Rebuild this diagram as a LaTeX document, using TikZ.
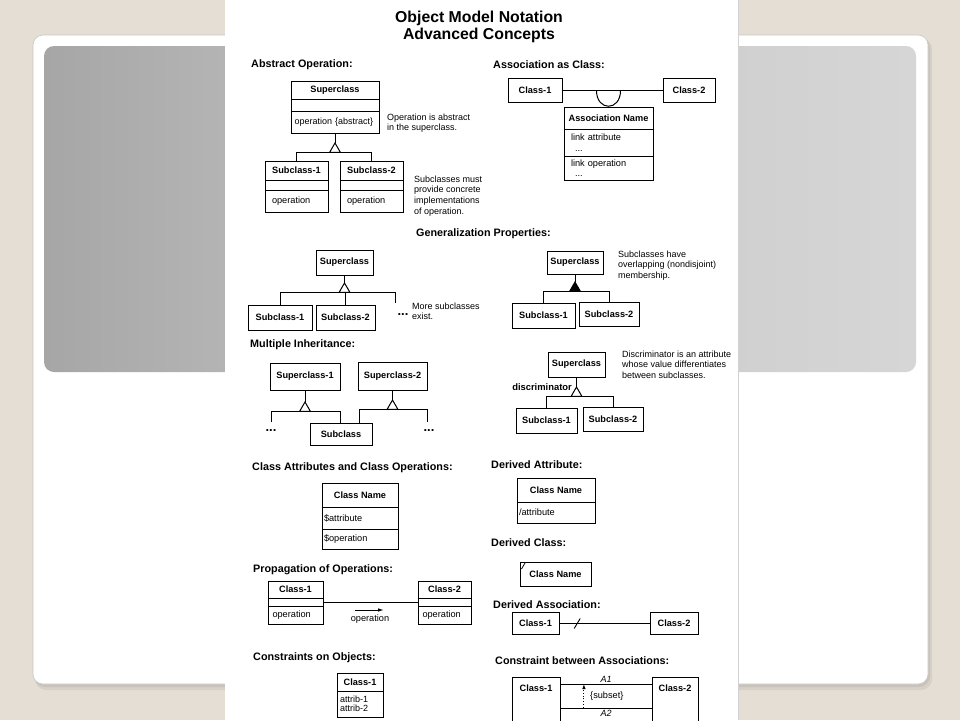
\documentclass[tikz,border=0pt]{standalone}
\usepackage{fontspec}
\setmainfont{Liberation Sans}
\usetikzlibrary{calc,shapes.geometric,arrows.meta}
\definecolor{bgbeige}{RGB}{228,222,212}
\definecolor{cardedge}{RGB}{200,200,200}
\definecolor{hdrL}{RGB}{166,166,166}
\definecolor{hdrM}{RGB}{200,200,200}
\definecolor{hdrR}{RGB}{214,214,214}
\begin{document}
\begin{tikzpicture}[x=1pt,y=-1pt,
  ln/.style={line width=1pt},
  nm/.style={draw, line width=1pt, inner sep=1pt, outer sep=0pt, anchor=north west,
    font=\bfseries\fontsize{9.2}{10}\selectfont},
  cp/.style={draw, line width=1pt, inner xsep=3pt, inner ysep=1pt, outer sep=0pt, anchor=north,
    align=left, font=\fontsize{9.2}{10.5}\selectfont},
  tri/.style={draw, line width=1pt, regular polygon, regular polygon sides=3,
    minimum size=12.5pt, inner sep=0pt, outer sep=0pt, fill=white, anchor=north},
  trif/.style={tri, fill=black},
  hd/.style={font=\bfseries\fontsize{10.8}{12}\selectfont, anchor=west, inner sep=0pt},
  nt/.style={font=\fontsize{9}{10.7}\selectfont, align=left, anchor=north west, inner sep=0pt},
  dots/.style={font=\bfseries\fontsize{13}{13}\selectfont, inner sep=0pt},
  small/.style={font=\fontsize{9.2}{10}\selectfont, inner sep=1pt}
]
\useasboundingbox (0,0) rectangle (960,720);
% slide background
\fill[bgbeige] (0,0) rectangle (960,720);
\fill[black, opacity=0.06, rounded corners=11pt] (35,38) rectangle (932,690);
\fill[black, opacity=0.06, rounded corners=11pt] (34,37) rectangle (930,687);
\filldraw[fill=white, draw=cardedge, line width=0.6pt, rounded corners=10pt] (33,35) rectangle (928,684);
\shade[left color=hdrL, right color=hdrR, middle color=hdrM, rounded corners=10pt] (44,46) rectangle (916,372);
% scanned page
\fill[white] (225,0) rectangle (738,720);
\draw[gray!35, line width=0.6pt] (738,0) -- (738,720);

\begin{scope}
\clip (225,0) rectangle (738,720);

% title
\node[font=\bfseries\fontsize{15.8}{17.5}\selectfont, align=center, inner sep=0pt] (title) at (479,27)
  {Object Model Notation\\Advanced Concepts};

% ---------- Abstract Operation ----------
\node[hd] (h-ao) at (251,65) {Abstract Operation:};
\node[nm, minimum width=88pt, minimum height=18pt] (ao-n) at (291,81) {Superclass};
\node[cp, minimum width=88pt, minimum height=12pt] (ao-e) at (ao-n.south) {};
\node[cp, inner xsep=3.5pt, text width=81pt, minimum height=22pt, font=\fontsize{9}{10.5}\selectfont] (ao-o) at (ao-e.south) {\mbox{operation \{abstract\}}};
\node[tri] (ao-t) at ($(ao-o.south)+(0,10)$) {};
\draw[ln] (ao-o.south) -- (ao-t.north);
\node[nm, minimum width=63pt, minimum height=19pt] (ao-s1n) at (265,161) {Subclass-1};
\node[cp, minimum width=63pt, minimum height=10pt] (ao-s1e) at (ao-s1n.south) {};
\node[cp, inner xsep=7pt, text width=49pt, minimum height=22pt] (ao-s1o) at (ao-s1e.south) {operation};
\node[nm, minimum width=63pt, minimum height=19pt] (ao-s2n) at (340,161) {Subclass-2};
\node[cp, minimum width=63pt, minimum height=10pt] (ao-s2e) at (ao-s2n.south) {};
\node[cp, inner xsep=7pt, text width=49pt, minimum height=22pt] (ao-s2o) at (ao-s2e.south) {operation};
\draw[ln] (ao-s1n.north) |- (ao-t.south) -| (ao-s2n.north);
\node[nt] (ao-note1) at (387,113.5) {Operation is abstract\\in the superclass.};
\node[nt] (ao-note2) at (414,175.5) {Subclasses must\\provide concrete\\implementations\\of operation.};

% ---------- Association as Class ----------
\node[hd] (h-ac) at (493,65) {Association as Class:};
\node[nm, minimum width=54pt, minimum height=24pt] (ac-c1) at (508,78.5) {Class-1};
\node[nm, minimum width=52pt, minimum height=24pt] (ac-c2) at (663,78.5) {Class-2};
\draw[ln] (ac-c1.east) -- (ac-c2.west);
\node[nm, minimum width=89pt, minimum height=22pt] (ac-n) at (564,107) {Association Name};
\node[cp, inner xsep=7pt, text width=75pt, minimum height=27pt] (ac-a) at (ac-n.south) {link attribute\\\hspace*{4pt}...};
\node[cp, inner xsep=7pt, text width=75pt, minimum height=24pt] (ac-o) at (ac-a.south) {link operation\\\hspace*{4pt}...};
\coordinate (ac-m) at (ac-n.north |- ac-c1.east);
\coordinate (ac-l) at ($(ac-m)+(-12,0)$);
\coordinate (ac-r) at ($(ac-m)+(12,0)$);
\draw[ln] (ac-l) .. controls +(0,21) and +(0,21) .. (ac-r);

% ---------- Generalization Properties ----------
\node[hd] (h-gp) at (416,234) {Generalization Properties:};
\node[nm, minimum width=57pt, minimum height=25pt] (gp-sup) at (316,250) {Superclass};
\node[tri] (gp-t) at ($(gp-sup.south)+(0,8)$) {};
\draw[ln] (gp-sup.south) -- (gp-t.north);
\node[nm, minimum width=64pt, minimum height=25pt] (gp-s1) at (248,305) {Subclass-1};
\node[nm, minimum width=59pt, minimum height=25pt] (gp-s2) at (316,305) {Subclass-2};
\coordinate (gp-more) at (395,303);
\draw[ln] (gp-s1.north) |- (gp-t.south) -| (gp-s2.north);
\draw[ln] (gp-t.south) -| (gp-more);
\node[dots] (gp-dots) at (403,315) {...};
\node[nt] (gp-note) at (412,302.5) {More subclasses\\exist.};

\node[nm, minimum width=56pt, minimum height=23pt] (gr-sup) at (547,251) {Superclass};
\node[trif] (gr-t) at ($(gr-sup.south)+(0,8)$) {};
\draw[ln] (gr-sup.south) -- (gr-t.north);
\node[nm, minimum width=63pt, minimum height=25pt] (gr-s1) at (512,303) {Subclass-1};
\node[nm, minimum width=60pt, minimum height=24pt] (gr-s2) at (579,302) {Subclass-2};
\draw[ln] (gr-s1.north) |- (gr-t.south) -| (gr-s2.north);
\node[nt] (gr-note) at (618,250.5) {Subclasses have\\overlapping (nondisjoint)\\membership.};

% ---------- Multiple Inheritance ----------
\node[hd] (h-mi) at (250,345) {Multiple Inheritance:};
\node[nm, minimum width=70pt, minimum height=27pt] (mi-p1) at (270,363) {Superclass-1};
\node[nm, minimum width=69pt, minimum height=28pt] (mi-p2) at (358,362) {Superclass-2};
\node[tri] (mi-t1) at ($(mi-p1.south)+(0,12)$) {};
\node[tri] (mi-t2) at ($(mi-p2.south)+(0,10)$) {};
\draw[ln] (mi-p1.south) -- (mi-t1.north);
\draw[ln] (mi-p2.south) -- (mi-t2.north);
\node[nm, minimum width=62pt, minimum height=22pt] (mi-c) at (310,423) {Subclass};
\coordinate (mi-l) at (271,422);
\coordinate (mi-r) at (427,422);
\draw[ln] (mi-l) |- (mi-t1.south) -| ($(mi-c.north west)+(30,0)$);
\draw[ln] ($(mi-c.north west)+(49,0)$) |- (mi-t2.south) -| (mi-r);
\node[dots] (mi-d1) at (271,431) {...};
\node[dots] (mi-d2) at (429,431) {...};

% ---------- Discriminator ----------
\node[nm, minimum width=57pt, minimum height=25pt] (di-sup) at (548,352) {Superclass};
\node[tri] (di-t) at ($(di-sup.south)+(0,10)$) {};
\draw[ln] (di-sup.south) -- (di-t.north);
\node[font=\bfseries\fontsize{9.4}{10}\selectfont, inner sep=0pt, anchor=east] (di-lbl) at ($(di-t.north)+(-4.5,0.5)$) {discriminator};
\node[nm, minimum width=61pt, minimum height=25pt] (di-s1) at (516,408) {Subclass-1};
\node[nm, minimum width=60pt, minimum height=24pt] (di-s2) at (583,407) {Subclass-2};
\draw[ln] (di-s1.north) |- (di-t.south) -| (di-s2.north);
\node[nt] (di-note) at (622,350.5) {Discriminator is an attribute\\whose value differentiates\\between subclasses.};

% ---------- Class Attributes and Class Operations ----------
\node[hd] (h-ca) at (252,468) {Class Attributes and Class Operations:};
\node[nm, minimum width=76pt, minimum height=24pt] (ca-n) at (322,483) {Class Name};
\node[cp, inner xsep=2pt, text width=72pt, minimum height=22pt] (ca-a) at (ca-n.south) {\$attribute};
\node[cp, inner xsep=2pt, text width=72pt, minimum height=20pt] (ca-o) at (ca-a.south) {\$operation};

% ---------- Derived Attribute ----------
\node[hd] (h-da) at (491,465) {Derived Attribute:};
\node[nm, minimum width=78pt, minimum height=24pt] (da-n) at (517,478) {Class Name};
\node[cp, inner xsep=2pt, text width=74pt, minimum height=21pt] (da-a) at (da-n.south) {/attribute};

% ---------- Derived Class ----------
\node[hd] (h-dc) at (491,543) {Derived Class:};
\node[nm, minimum width=71pt, minimum height=24pt] (dc-n) at (520,562) {Class Name};
\draw[line width=0.8pt] ($(dc-n.north west)+(1.5,7)$) -- ($(dc-n.north west)+(5,1)$);

% ---------- Propagation of Operations ----------
\node[hd] (h-po) at (253,570) {Propagation of Operations:};
\node[nm, minimum width=55pt, minimum height=17pt] (po1-n) at (268,581) {Class-1};
\node[cp, minimum width=55pt, minimum height=8pt] (po1-e) at (po1-n.south) {};
\node[cp, inner xsep=4.5pt, text width=46pt, minimum height=18pt] (po1-o) at (po1-e.south) {operation};
\node[nm, minimum width=53pt, minimum height=17pt] (po2-n) at (418,581) {Class-2};
\node[cp, minimum width=53pt, minimum height=8pt] (po2-e) at (po2-n.south) {};
\node[cp, inner xsep=4.5pt, text width=44pt, minimum height=18pt] (po2-o) at (po2-e.south) {operation};
\draw[ln] (po1-e.east) -- (po2-e.west);
\coordinate (po-a) at (355,610);
\coordinate (po-b) at (384,610);
\draw[ln, -{Latex[length=6pt,width=3.5pt]}] (po-a) -- (po-b);
\node[small] (po-lbl) at (370,619.5) {operation};

% ---------- Constraints on Objects ----------
\node[hd] (h-co) at (253,658) {Constraints on Objects:};
\node[nm, minimum width=46pt, minimum height=18pt] (co-n) at (337,673) {Class-1};
\node[cp, font=\fontsize{9}{9}\selectfont, text width=40pt, minimum height=26pt] (co-a) at (co-n.south) {attrib-1\\attrib-2};

% ---------- Derived Association ----------
\node[hd] (h-das) at (493,605) {Derived Association:};
\node[nm, minimum width=47pt, minimum height=22pt] (das-1) at (512,612.5) {Class-1};
\node[nm, minimum width=48pt, minimum height=22pt] (das-2) at (650,612.5) {Class-2};
\draw[ln] (das-1.east) -- coordinate[pos=0.2] (das-m) (das-2.west);
\draw[line width=0.9pt] ($(das-m)+(-3,5)$) -- ($(das-m)+(3,-5)$);

% ---------- Constraint between Associations ----------
\node[hd] (h-cb) at (495,661) {Constraint between Associations:};
\node[nm, minimum width=48pt, inner ysep=7pt, text height=7pt, text depth=40pt] (cb-1) at (512,677) {Class-1};
\node[nm, minimum width=46pt, inner ysep=7pt, text height=7pt, text depth=40pt] (cb-2) at (652,677) {Class-2};
\coordinate (cb-a1l) at ($(cb-1.north east)+(0,7)$);
\coordinate (cb-a1r) at (cb-2.west |- cb-a1l);
\coordinate (cb-a2l) at ($(cb-1.north east)+(0,31)$);
\coordinate (cb-a2r) at (cb-2.west |- cb-a2l);
\draw[ln] (cb-a1l) -- node[above, font=\itshape\fontsize{9}{10}\selectfont, inner sep=1.5pt] {A1} (cb-a1r);
\draw[ln] (cb-a2l) -- node[below, font=\itshape\fontsize{9}{10}\selectfont, inner sep=1.5pt] {A2} (cb-a2r);
\draw[line width=0.9pt, dotted, -{Latex[length=5pt,width=3.5pt]}] ($(cb-a2l)!0.26!(cb-a2r)$) -- ($(cb-a1l)!0.26!(cb-a1r)$);
\node[small, anchor=west] (cb-sub) at (589,696.5) {\{subset\}};
\end{scope}
\end{tikzpicture}
\end{document}
